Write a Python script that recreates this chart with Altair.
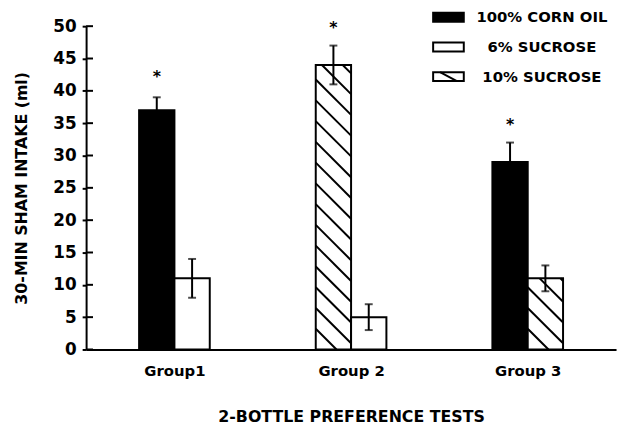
import altair as alt
import pandas as pd
import numpy as np

# ---------------- data ----------------
groups = ["Group1", "Group 2", "Group 3"]
series_a = ["100% CORN OIL", "10% SUCROSE", "100% CORN OIL"]
mean_a = [37, 44, 29]
sem_a = [2, 3, 3]
series_b = ["6% SUCROSE", "6% SUCROSE", "10% SUCROSE"]
mean_b = [11, 5, 11]
sem_b = [3, 2, 2]
star_y = [42.3, 49.8, 34.9]          # asterisks above first bar of each group
legend_series = ["100% CORN OIL", "6% SUCROSE", "10% SUCROSE"]
y_ticks = [0, 5, 10, 15, 20, 25, 30, 35, 40, 45, 50]

# ---------------- layout / style ----------------
W, H = 536, 327
X_DOMAIN = [0.5, 3.5]
Y_DOMAIN = [0, 50]
BAR_W = 0.2
PX_X = W / (X_DOMAIN[1] - X_DOMAIN[0])
PX_Y = H / (Y_DOMAIN[1] - Y_DOMAIN[0])
HATCH_GAP_PX = 21.0
FONT = "DejaVu Sans"
HATCHED = "10% SUCROSE"

rows = []
for i, g in enumerate(groups):
    c = i + 1
    for pos, (s, m, e) in enumerate([(series_a[i], mean_a[i], sem_a[i]),
                                      (series_b[i], mean_b[i], sem_b[i])]):
        x0 = c - BAR_W + pos * BAR_W
        rows.append(dict(group=g, series=s, mean=m, lo=m - e, hi=m + e,
                         x0=x0, x1=x0 + BAR_W, xc=x0 + BAR_W / 2))
bars = pd.DataFrame(rows)

# error-bar caps (long format)
caps = pd.concat([bars[["xc"]].assign(v=bars["lo"]), bars[["xc"]].assign(v=bars["hi"])])

# asterisks over the first bar of each group
stars = pd.DataFrame(dict(xc=[i + 1 - BAR_W / 2 for i in range(len(groups))], y=star_y))

# 45-degree hatch lines clipped to the hatched bars
s = PX_X / PX_Y                     # value units per x unit for a 45deg line
gap = HATCH_GAP_PX / PX_Y
hrows = []
for _, r in bars[bars["series"] == HATCHED].iterrows():
    h, x0, w = r["mean"], r["x0"], BAR_W
    c = gap
    while c - s * w < h:
        if c > 0:
            if c > h:
                xs_, vs = x0 + (c - h) / s, h
            else:
                xs_, vs = x0, c
            if c - s * w < 0:
                xe, ve = x0 + c / s, 0.0
            else:
                xe, ve = x0 + w, c - s * w
            hrows.append(dict(hx0=xs_, hx1=xe, hy0=vs, hy1=ve))
        c += gap
hatch = pd.DataFrame(hrows)

ticks_df = pd.DataFrame(dict(t=y_ticks))

fill_scale = alt.Scale(domain=legend_series, range=["black", "white", "white"])
xs = alt.Scale(domain=X_DOMAIN, nice=False, zero=False)
ys = alt.Scale(domain=Y_DOMAIN, nice=False)

label_expr = "[" + ",".join("'%s'" % g for g in groups) + "][datum.value - 1]"

X_AXIS = alt.Axis(
    values=[1, 2, 3], labelExpr=label_expr, ticks=False, tickSize=0, grid=False,
    domainColor="black", domainWidth=2, labelFont=FONT, labelFontSize=15,
    labelFontWeight="bold", labelColor="black", labelPadding=14,
    labelOverlap=False,
    title="2-BOTTLE PREFERENCE TESTS", titleFont=FONT, titleFontSize=16,
    titleFontWeight="bold", titleColor="black", titlePadding=31)
Y_AXIS = alt.Axis(
    values=y_ticks, grid=False, tickSize=4, tickWidth=2, tickColor="black",
    domainColor="black", domainWidth=2, labelFont=FONT, labelFontSize=17,
    labelFontWeight="bold", labelColor="black", labelPadding=6,
    labelOverlap=False,
    title="30-MIN SHAM INTAKE (ml)", titleFont=FONT, titleFontSize=16,
    titleFontWeight="bold", titleColor="black", titlePadding=24)


def X(f):
    return alt.X(f, scale=xs, axis=X_AXIS)


def Y(f):
    return alt.Y(f, scale=ys, axis=Y_AXIS)


bar_layer = alt.Chart(bars).mark_rect(stroke="black", strokeWidth=2).encode(
    x=X("x0:Q"), x2="x1:Q",
    y=Y("mean:Q"), y2=alt.datum(0),
    fill=alt.Fill("series:N", scale=fill_scale, legend=None),
)

hatch_layer = alt.Chart(hatch).mark_rule(color="black", strokeWidth=2).encode(
    x=X("hx0:Q"), x2="hx1:Q",
    y=Y("hy0:Q"), y2="hy1:Q",
)

err_layer = alt.Chart(bars).mark_rule(color="black", strokeWidth=2).encode(
    x=X("xc:Q"), y=Y("lo:Q"), y2="hi:Q",
)
cap_layer = alt.Chart(caps).mark_tick(color="black", orient="horizontal",
                                      size=8, thickness=2).encode(
    x=X("xc:Q"), y=Y("v:Q"),
)

star_layer = alt.Chart(stars).mark_text(text="*", font=FONT, fontSize=16,
                                        fontWeight="bold", baseline="middle",
                                        dy=1, color="black").encode(
    x=X("xc:Q"), y=Y("y:Q"),
)

inner_ticks = alt.Chart(ticks_df).mark_rule(color="black", strokeWidth=2).encode(
    x=alt.value(0), x2=alt.value(7), y=Y("t:Q"),
)

main = alt.layer(bar_layer, hatch_layer, err_layer, cap_layer, star_layer, inner_ticks)

# ---------------- custom legend ----------------
leg = pd.DataFrame(dict(series=legend_series, row=list(range(len(legend_series)))))
leg["row_b"] = leg["row"] + 0.3
leg["row_c"] = leg["row"] + 0.15
ly = alt.Scale(domain=[0, 2], range=[-13.5, 46.5])

leg_rect = alt.Chart(leg).mark_rect(stroke="black", strokeWidth=2).encode(
    x=alt.value(351), x2=alt.value(382),
    y=alt.Y("row:Q", scale=ly, axis=None), y2="row_b:Q",
    fill=alt.Fill("series:N", scale=fill_scale, legend=None),
)
leg_hatch = alt.Chart(leg).transform_filter(alt.datum.series == HATCHED).mark_rule(
    color="black", strokeWidth=2).encode(
    x=alt.value(358), x2=alt.value(375),
    y=alt.Y("row:Q", scale=ly, axis=None), y2="row_b:Q",
)
leg_text = alt.Chart(leg).mark_text(font=FONT, fontSize=15, fontWeight="bold",
                                    align="center", baseline="middle",
                                    color="black").encode(
    x=alt.value(461), y=alt.Y("row_c:Q", scale=ly, axis=None), text="series:N",
)
legend = alt.layer(leg_rect, leg_hatch, leg_text)

chart = alt.layer(main, legend).resolve_scale(x="independent", y="independent").properties(
    width=W, height=H,
    autosize=alt.AutoSizeParams(type="none"),
    padding={"left": 79, "top": 16, "right": 4, "bottom": 74},
    background="white",
).configure_view(stroke=None)

chart.save("out.html", embed_options={"renderer": "svg", "actions": False})
